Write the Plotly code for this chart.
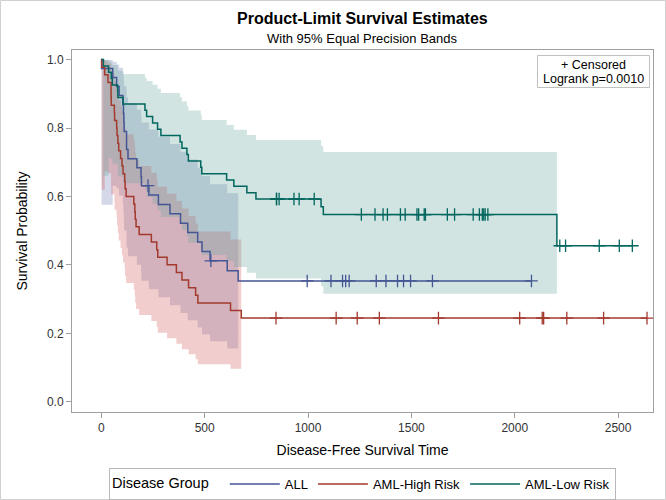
import numpy as np
import plotly.graph_objects as go

# ---- Data (BMT disease-free survival), status 1 = event, 0 = censored ----
all_times = [2081, 1602, 1496, 1462, 1433, 1377, 1330, 996, 226, 1199, 1111, 530, 1182, 1167,
             418, 383, 276, 104, 609, 172, 487, 662, 194, 230, 526, 122, 129, 74, 122, 86,
             466, 192, 109, 55, 1, 107, 110, 332]
all_status = [0, 0, 0, 0, 0, 0, 0, 0, 0, 0, 0, 0, 0, 0,
              1, 1, 1, 1, 1, 1, 1, 1, 1, 1, 1, 1, 1, 1, 1, 1,
              1, 1, 1, 1, 1, 1, 1, 1]

high_times = [2640, 2430, 2252, 2140, 2133, 1238, 1631, 2024, 1345, 1136, 845,
              422, 162, 84, 100, 2, 47, 242, 456, 268, 318, 32, 467, 47, 390, 183, 105,
              115, 164, 93, 120, 80, 677, 64, 168, 74, 16, 157, 625, 48, 273, 63, 76, 113, 363]
high_status = [0] * 11 + [1] * 34

low_times = [2569, 2506, 2409, 2218, 1857, 1829, 1562, 1470, 1363, 1030, 860, 1258, 2246,
             1870, 1799, 1709, 1674, 1568, 1527, 1324, 957, 932, 847, 848, 1850, 1843, 1535,
             1447, 1384, 414, 2204, 1063, 481, 105, 641, 390, 288, 421, 79, 748, 486, 48,
             272, 1074, 381, 10, 53, 80, 35, 248, 704, 211, 219, 606]
low_status = [0] * 29 + [1] * 25

group_names = ["ALL", "AML-High Risk", "AML-Low Risk"]
# equal-precision band critical values
ep_coef = [3.03, 3.06, 3.10]

line_colors = ["#445694", "#A23A2E", "#01665E"]
fill_colors = ["rgba(111,126,179,0.30)", "rgba(208,91,91,0.30)", "rgba(102,165,160,0.30)"]

x_ticks = [0, 500, 1000, 1500, 2000, 2500]
y_ticks = [0.0, 0.2, 0.4, 0.6, 0.8, 1.0]


def kaplan_meier(times, status):
    t = np.asarray(times, float)
    s = np.asarray(status, int)
    ev_t = np.unique(t[s == 1])
    surv, var, S, V = 1.0, 0.0, [], []
    for u in ev_t:
        y = np.sum(t >= u)
        d = np.sum((t == u) & (s == 1))
        surv *= (1 - d / y)
        if y > d:
            var += d / (y * (y - d))
        S.append(surv)
        V.append(var)
    return ev_t, np.array(S), np.array(V)


fig = go.Figure()
curves = []
for name, tt, ss, lc, fc, c in zip(group_names, [all_times, high_times, low_times],
                                   [all_status, high_status, low_status],
                                   line_colors, fill_colors, ep_coef):
    ev_t, S, V = kaplan_meier(tt, ss)
    sig = np.sqrt(V)
    th = c * sig / np.log(S)
    upper = S ** np.exp(th)
    lower = S ** np.exp(-th)
    # bands span first to last event time
    bx = list(ev_t)
    bu = list(upper[:-1]) + [upper[-2]]
    bl = list(lower[:-1]) + [lower[-2]]
    fig.add_trace(go.Scatter(x=bx, y=bu, mode="lines", line=dict(width=0, shape="hv"),
                             showlegend=False, hoverinfo="skip"))
    fig.add_trace(go.Scatter(x=bx, y=bl, mode="lines", line=dict(width=0, shape="hv"),
                             fill="tonexty", fillcolor=fc, showlegend=False, hoverinfo="skip"))
    curves.append((name, tt, ss, lc, ev_t, S))

for name, tt, ss, lc, ev_t, S in curves:
    tmax = max(tt)
    lx = [0] + list(ev_t) + [tmax]
    ly = [1.0] + list(S) + [S[-1]]
    fig.add_trace(go.Scatter(x=lx, y=ly, mode="lines", name=name,
                             line=dict(color=lc, width=1.5, shape="hv")))
    cens = sorted(t for t, s in zip(tt, ss) if s == 0)
    cy = []
    for t in cens:
        idx = np.searchsorted(ev_t, t, side="right") - 1
        cy.append(1.0 if idx < 0 else S[idx])
    fig.add_trace(go.Scatter(x=cens, y=cy, mode="markers", showlegend=False,
                             marker=dict(symbol="cross-thin-open", size=9,
                                         line=dict(color=lc, width=1.3), color=lc)))

FONT = "Liberation Sans, Arial, Helvetica, sans-serif"
L, R, T, B = 72, 13, 50, 88
W, H = 666, 500
pw, ph = W - L - R, H - T - B


def px_x(p):
    return (p - L) / pw


def px_y(p):
    return (H - B - p) / ph


fig.update_layout(
    width=W, height=H,
    margin=dict(l=L, r=R, t=T, b=B, autoexpand=False),
    plot_bgcolor="white", paper_bgcolor="white",
    font=dict(family=FONT, color="#000000"),
    xaxis=dict(range=[-142, 2669], tickvals=x_ticks, ticks="outside", ticklen=5,
               tickcolor="#a0a0a0", showgrid=False, zeroline=False, showline=True,
               linecolor="#a0a0a0", mirror=True, tickfont=dict(size=12, color="#333333"),
               automargin=False,
               title=dict(text="Disease-Free Survival Time", font=dict(size=14), standoff=10)),
    yaxis=dict(range=[-0.03, 1.028], tickvals=y_ticks, tickformat=".1f", ticks="outside",
               ticklen=5, tickcolor="#a0a0a0", showgrid=False, zeroline=False, showline=True,
               linecolor="#a0a0a0", mirror=True, tickfont=dict(size=12, color="#333333"),
               automargin=False,
               title=dict(text="Survival Probability", font=dict(size=14), standoff=16)),
    legend=dict(orientation="h", x=0.5, xanchor="center", y=px_y(468), yanchor="top",
                traceorder="normal", itemwidth=50,
                title=dict(text="Disease Group  ", side="left", font=dict(size=14.5)),
                font=dict(size=13), bordercolor="#b8b8b8", borderwidth=1, bgcolor="white"),
    annotations=[
        dict(text="<b>Product-Limit Survival Estimates</b>", xref="paper", yref="paper",
             x=0.5, y=px_y(19), xanchor="center", yanchor="middle",
             showarrow=False, font=dict(size=16)),
        dict(text="With 95% Equal Precision Bands", xref="paper", yref="paper",
             x=0.5, y=px_y(38), xanchor="center", yanchor="middle",
             showarrow=False, font=dict(size=13)),
        dict(text="+ Censored", xref="paper", yref="paper",
             x=px_x(593.5), y=px_y(65), xanchor="center", yanchor="middle",
             showarrow=False, font=dict(size=12.5)),
        dict(text="Logrank p=0.0010", xref="paper", yref="paper",
             x=px_x(593.5), y=px_y(79), xanchor="center", yanchor="middle",
             showarrow=False, font=dict(size=12.5)),
    ],
    shapes=[dict(type="rect", xref="paper", yref="paper",
                 x0=px_x(0.5), x1=px_x(W - 0.5), y0=px_y(H - 0.5), y1=px_y(0.5),
                 line=dict(color="#d0d0d0", width=1), layer="below"),
            dict(type="rect", xref="paper", yref="paper",
                 x0=px_x(537.5), x1=px_x(649.5), y0=px_y(87.5), y1=px_y(55.5),
                 line=dict(color="#c0c0c0", width=1), fillcolor="white", layer="below")],
)

fig.write_html("out.html", config={"displayModeBar": False},
               post_script="document.body.style.margin='0';document.body.style.overflow='hidden';")
